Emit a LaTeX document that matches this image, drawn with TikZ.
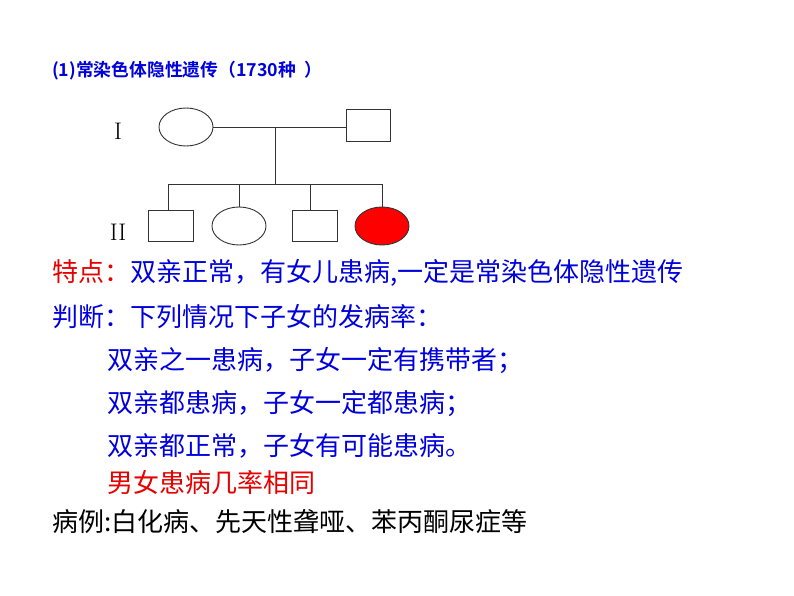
\documentclass[tikz,border=0pt]{standalone}
\usepackage{fontspec}
\newfontfamily\cjk{Noto Sans CJK SC}
\newfontfamily\cjkb{Noto Sans CJK SC Bold}
\definecolor{tblue}{RGB}{0,0,220}
\definecolor{tred}{RGB}{230,0,0}
\begin{document}
\begin{tikzpicture}[x=1pt,y=-1pt,
  ln/.style={line width=0.9pt,draw=black!80},
  sq/.style={ln,fill=white},
  txt/.style={anchor=west,inner sep=0pt,font=\cjk\fontsize{26}{28}\selectfont},
  gen/.style={font=\fontsize{24}{26}\selectfont}]
\useasboundingbox (0,0) rectangle (794,596);
\node[anchor=west,inner sep=0pt,text=tblue,font=\cjkb\fontsize{17.8}{19}\selectfont] (title) at (52,71) {(1)常染色体隐性遗传（1730种\ \ ）};
\node[gen] (g1) at (118,131) {I};
\node[gen] (g2) at (118,232) {II};
% generation I
\draw[ln] (186,127) ellipse (27 and 19);
\coordinate (m) at (213,127);
\draw[sq] (346,109) rectangle (390,141);
\coordinate (f) at (346,127);
\draw[ln] (m) -- (f);
\coordinate (c1) at (275,127);
\coordinate (c2) at (275,184);
\draw[ln] (c1) -- (c2);
\coordinate (sl) at (168,184);
\coordinate (sr) at (382,184);
\draw[ln] (sl) -- (sr);
\draw[ln] (168,184) -- (168,210);
\draw[ln] (239,184) -- (239,207);
\draw[ln] (310,184) -- (310,210);
\draw[ln] (382,184) -- (382,207);
\draw[sq] (148,210) rectangle (193,241);
\draw[ln] (239,226) ellipse (27 and 19);
\draw[sq] (292,210) rectangle (337,241);
\draw[ln,fill=red] (382,226) ellipse (27 and 19);
% text
\node[txt] (t1) at (52,273) {\textcolor{tred}{特点：}\textcolor{tblue}{双亲正常，有女儿患病,一定是常染色体隐性遗传}};
\node[txt,text=tblue] (t2) at (52,317) {判断：下列情况下子女的发病率：};
\node[txt,text=tblue] (t3) at (107,361) {双亲之一患病，子女一定有携带者；};
\node[txt,text=tblue] (t4) at (107,404) {双亲都患病，子女一定都患病；};
\node[txt,text=tblue] (t5) at (107,446) {双亲都正常，子女有可能患病。};
\node[txt,text=tred] (t6) at (107,483) {男女患病几率相同};
\node[txt] (t7) at (52,522) {病例:白化病、先天性聋哑、苯丙酮尿症等};
\end{tikzpicture}
\end{document}
